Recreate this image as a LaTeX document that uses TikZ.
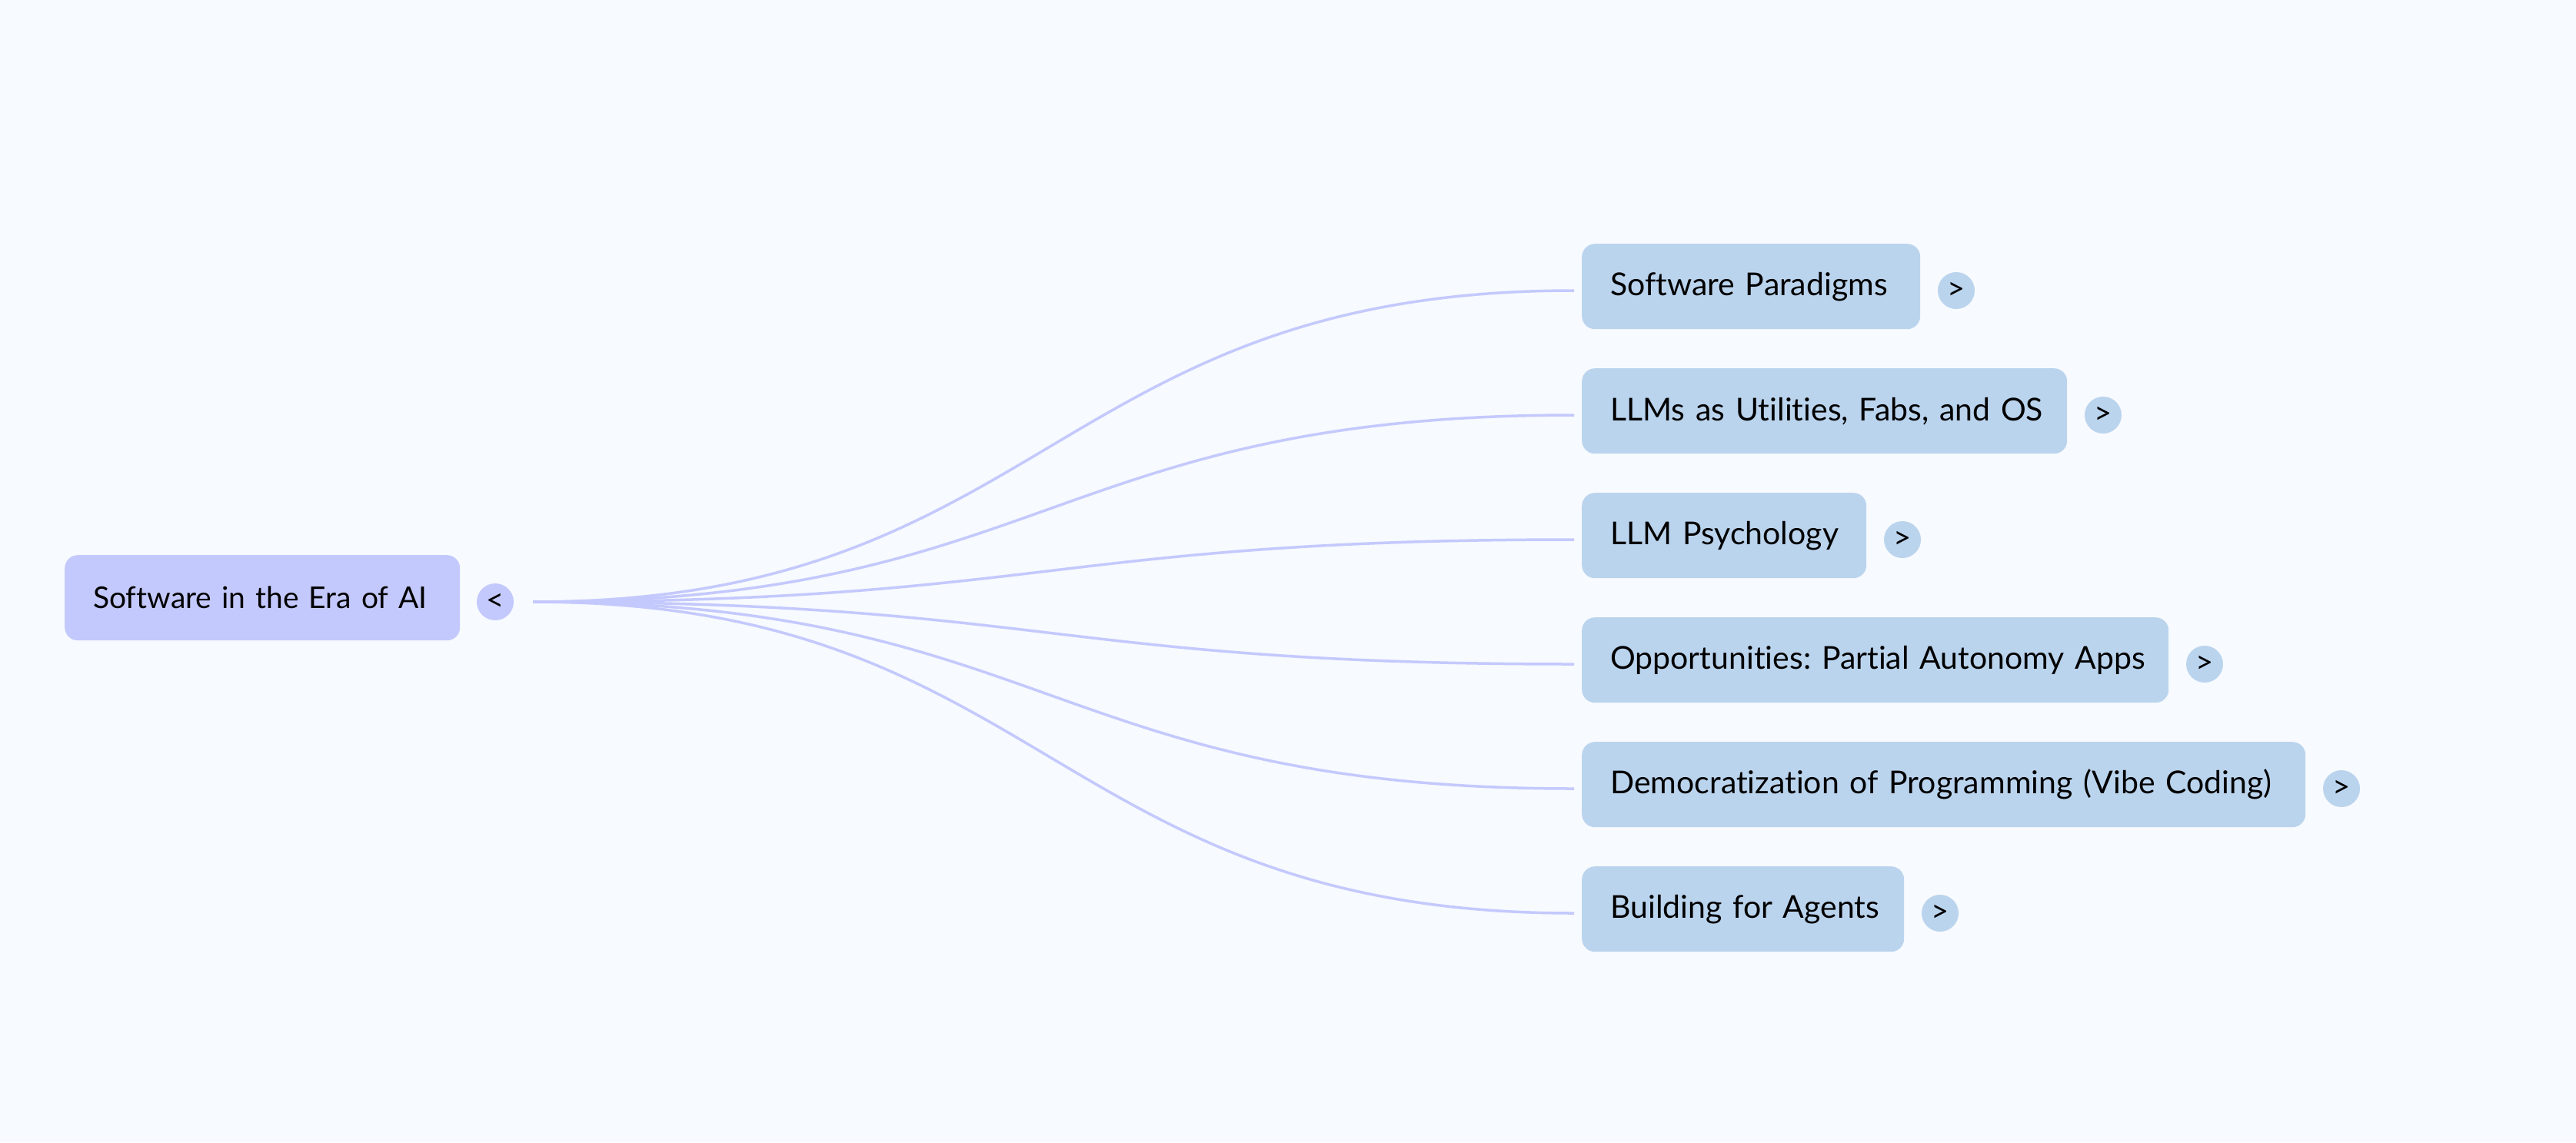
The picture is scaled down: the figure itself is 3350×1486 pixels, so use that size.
\documentclass[tikz,border=0pt]{standalone}
\usepackage{fontspec}
\setmainfont[Ligatures=NoCommon]{Lato}
\frenchspacing
\definecolor{bgc}{HTML}{F7FAFE}
\definecolor{rootc}{HTML}{C4C9FD}
\definecolor{childc}{HTML}{BBD4EE}
\definecolor{linec}{HTML}{C4C9FD}
\begin{document}
\begin{tikzpicture}[x=1pt,y=-1pt,
  box/.style={anchor=north west,rounded corners=17pt,minimum height=111pt,
    inner xsep=37pt,inner ysep=0pt,align=left,
    font=\fontsize{41}{48}\selectfont,text=black},
  rootbox/.style={box,fill=rootc,font=\fontsize{39}{48}\selectfont},
  childbox/.style={box,fill=childc},
  knob/.style={circle,minimum size=48pt,inner sep=0pt,font=\fontsize{40}{40}\selectfont},
  link/.style={draw=linec,line width=3.5pt}]
\fill[bgc] (0,0) rectangle (3350,1486);
\useasboundingbox (0,0) rectangle (3350,1486);
% root
\node[rootbox,text width=440pt] (root) at (84,722) {\mbox{Software in the Era of AI}};
\node[knob,fill=rootc] (rk) at (644,783) {<};
\coordinate (s) at (693,783);
% children
\node[childbox,text width=366pt] (c1) at (2057,317) {\mbox{Software Paradigms}};
\node[childbox,text width=557pt] (c2) at (2057,479) {\mbox{LLMs as Utilities, Fabs, and OS}};
\node[childbox,text width=296pt] (c3) at (2057,641) {\mbox{LLM Psychology}};
\node[childbox,text width=689pt] (c4) at (2057,803) {\mbox{Opportunities: Partial Autonomy Apps}};
\node[childbox,text width=867pt] (c5) at (2057,965) {\mbox{Democratization of Programming (Vibe Coding)}};
\node[childbox,text width=345pt] (c6) at (2057,1127) {\mbox{Building for Agents}};
\node[knob,fill=childc] (k1) at (2544,378) {>};
\node[knob,fill=childc] (k2) at (2735,540) {>};
\node[knob,fill=childc] (k3) at (2474,702) {>};
\node[knob,fill=childc] (k4) at (2867,864) {>};
\node[knob,fill=childc] (k5) at (3045,1026) {>};
\node[knob,fill=childc] (k6) at (2523,1188) {>};
\foreach \i/\y in {1/378,2/540,3/702,4/864,5/1026,6/1188}{
  \coordinate (e\i) at (2047,\y);
  \draw[link] (s) .. controls (1360,783) and (1370,\y) .. (e\i);
}
\end{tikzpicture}
\end{document}
